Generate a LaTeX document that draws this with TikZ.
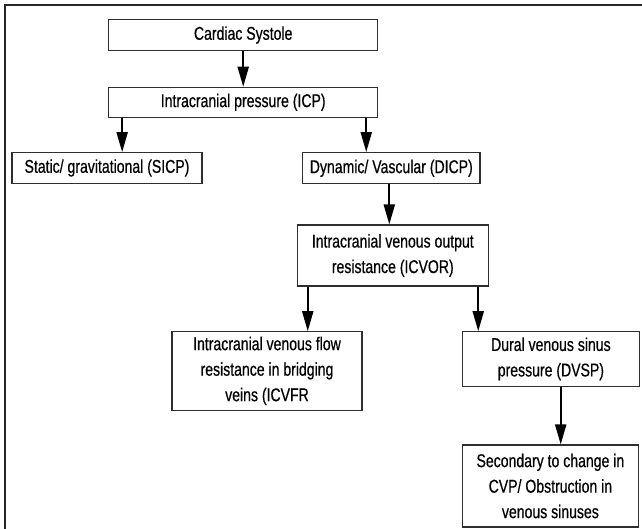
\documentclass[tikz,border=0pt]{standalone}
\usepackage{fontspec}
\setmainfont[FakeStretch=0.76,FakeBold=0.5]{Liberation Sans}
\usetikzlibrary{arrows.meta}
\definecolor{boxline}{HTML}{2E2E2E}
\definecolor{frameline}{HTML}{262626}
\tikzset{
  box/.style={draw=boxline, line width=1.1pt, inner sep=0pt, align=center,
    font=\fontsize{18.5}{25.5}\selectfont, text=black},
  arr/.style={draw=black, line width=2pt,
    -{Triangle[length=20pt,width=11pt]}, shorten >=0pt}
}
\begin{document}
\begin{tikzpicture}[x=1pt,y=-1pt]
\useasboundingbox (0,0) rectangle (642,529);
\fill[white] (0,0) rectangle (642,529);
\draw[frameline, line width=2.2pt] (5,540) -- (5,5) -- (650,5);

\node[box, minimum width=269pt, minimum height=31.4pt] (cs) at (243.2,35) {Cardiac Systole};
\node[box, minimum width=269pt, minimum height=30pt] (icp) at (243.2,102.3) {Intracranial pressure (ICP)};
\node[box, minimum width=190pt, minimum height=30.6pt] (sicp) at (107,168) {Static/ gravitational (SICP)};
\node[box, minimum width=177.3pt, minimum height=31.3pt] (dicp) at (391.3,168.3) {Dynamic/ Vascular (DICP)};
\node[box, minimum width=191pt, minimum height=61pt] (icvor) at (392.8,255.5) {Intracranial venous output\\resistance (ICVOR)};
\node[box, minimum width=190pt, minimum height=78.3pt] (icvfr) at (267,370.9) {Intracranial venous flow\\resistance in bridging\\veins (ICVFR};
\node[box, minimum width=176.3pt, minimum height=54.3pt] (dvsp) at (550.9,358.9) {Dural venous sinus\\pressure (DVSP)};
\node[box, minimum width=175.3pt, minimum height=82pt] (sec) at (550.4,486) {Secondary to change in\\CVP/ Obstruction in\\venous sinuses};

\draw[arr] (cs.south) -- (icp.north);
\draw[arr] ([xshift=14pt]icp.south west) -- ([xshift=14pt]icp.south west |- sicp.north);
\draw[arr] ([xshift=-12pt]icp.south east) -- ([xshift=-12pt]icp.south east |- dicp.north);
\draw[arr] ([xshift=-2pt]dicp.south) -- ([xshift=-2pt]dicp.south |- icvor.north);
\draw[arr] ([xshift=11pt]icvor.south west) -- ([xshift=11pt]icvor.south west |- icvfr.north);
\draw[arr] ([xshift=-10.6pt]icvor.south east) -- ([xshift=-10.6pt]icvor.south east |- dvsp.north);
\draw[arr] ([xshift=9.8pt]dvsp.south) -- ([xshift=9.8pt]dvsp.south |- sec.north);
\end{tikzpicture}
\end{document}
